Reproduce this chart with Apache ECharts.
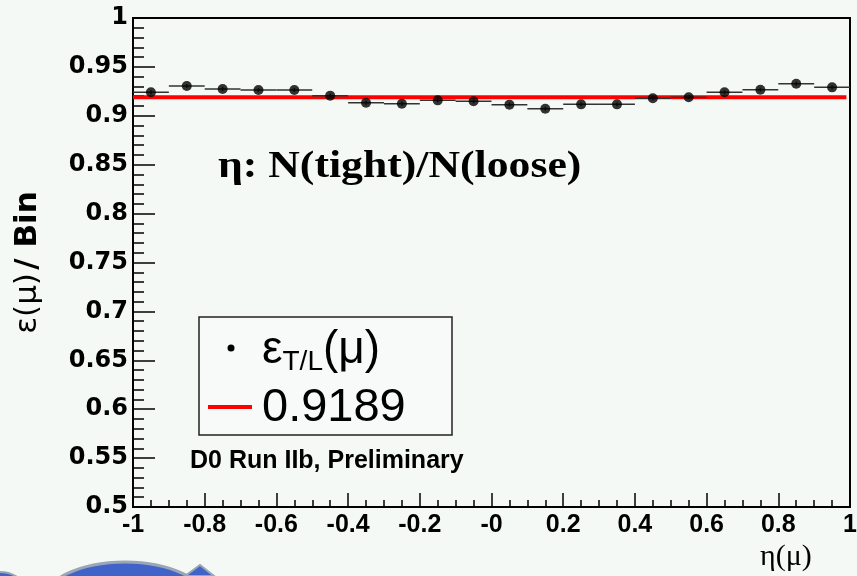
<!DOCTYPE html>
<html>
<head>
<meta charset="utf-8">
<script src="https://cdn.jsdelivr.net/npm/echarts@6/dist/echarts.min.js"></script>
<style>
  html, body { margin: 0; padding: 0; background: #f4f9f6; }
  #chart { width: 857px; height: 576px; }
</style>
</head>
<body>
<div id="chart"></div>
<script>
// tight/loose muon efficiency vs eta, 20 bins of width 0.1
const etaCenters = [-0.95, -0.85, -0.75, -0.65, -0.55, -0.45, -0.35, -0.25, -0.15, -0.05,
                    0.05, 0.15, 0.25, 0.35, 0.45, 0.55, 0.65, 0.75, 0.85, 0.95]
const effValues = [0.924, 0.9305, 0.9274, 0.9264, 0.9264, 0.9206, 0.9134, 0.9124, 0.9158, 0.9148,
                   0.9114, 0.9073, 0.9117, 0.9117, 0.9179, 0.9189, 0.924, 0.9267, 0.9328, 0.9291]
const effErrors = [0.002, 0.002, 0.002, 0.002, 0.002, 0.002, 0.002, 0.002, 0.002, 0.002,
                   0.002, 0.002, 0.002, 0.002, 0.002, 0.002, 0.002, 0.002, 0.002, 0.002]
const binHalfWidth = 0.05
const fitValue = 0.9189
const fitRange = [-1, 0.99]
const xTicks = [-1, -0.8, -0.6, -0.4, -0.2, 0, 0.2, 0.4, 0.6, 0.8, 1]

const chart = echarts.init(document.getElementById("chart"))

const points = etaCenters.map((x, i) => [x, effValues[i], effErrors[i]])

chart.setOption({
  backgroundColor: "#f4f9f6",
  animation: false,
  grid: {
    left: 133, right: 7, top: 18, bottom: 69,
    outerBoundsMode: "none",
    show: true, borderColor: "#000", borderWidth: 2,
  },
  xAxis: {
    type: "value",
    min: -1,
    max: 1,
    interval: 0.2,
    axisLine: { onZero: false, lineStyle: { color: "#000", width: 2 } },
    axisTick: { inside: true, length: 14, lineStyle: { color: "#000", width: 1.5 } },
    minorTick: { show: true, splitNumber: 4, length: 7, lineStyle: { color: "#000", width: 1.5 } },
    splitLine: { show: false },
    axisLabel: {
      color: "#000", fontFamily: "Liberation Sans", fontWeight: "bold", fontSize: 25,
      margin: 6,
      formatter: (v) => {
        const t = xTicks.find((k) => Math.abs(k - v) < 1e-9)
        if (t === undefined) return ""
        return t === 0 ? "-0" : String(t)
      },
    },
  },
  yAxis: {
    type: "value",
    min: 0.5,
    max: 1,
    interval: 0.05,
    name: "{n|ε(μ)} {b|/ Bin}",
    nameLocation: "middle",
    nameGap: 90,
    nameRotate: 90,
    nameTextStyle: {
      rich: {
        n: { fontFamily: "DejaVu Sans", fontSize: 31, color: "#000" },
        b: { fontFamily: "DejaVu Sans", fontSize: 31, fontWeight: "bold", color: "#000" },
      },
    },
    axisLine: { onZero: false, lineStyle: { color: "#000", width: 2 } },
    axisTick: { inside: true, length: 22, lineStyle: { color: "#000", width: 1.5 } },
    minorTick: { show: true, splitNumber: 5, length: 11, lineStyle: { color: "#000", width: 1.5 } },
    splitLine: { show: false },
    axisLabel: {
      color: "#000", fontFamily: "DejaVu Sans", fontWeight: "bold", fontSize: 24,
      margin: 5,
      formatter: (v) => String(Math.round(v * 100) / 100),
    },
  },
  series: [
    {
      type: "line",
      data: fitRange.map((x) => [x, fitValue]),
      symbol: "none",
      lineStyle: { color: "#ff0000", width: 4 },
      z: 3,
    },
    {
      type: "custom",
      data: points,
      renderItem: (params, api) => {
        const x = api.value(0)
        const y = api.value(1)
        const e = api.value(2)
        const l = api.coord([x - binHalfWidth, y])
        const r = api.coord([x + binHalfWidth, y])
        const t = api.coord([x, y + e])
        const b = api.coord([x, y - e])
        const style = { stroke: "#333", lineWidth: 1.5 }
        return {
          type: "group",
          children: [
            { type: "line", shape: { x1: l[0], y1: l[1], x2: r[0], y2: r[1] }, style },
            { type: "line", shape: { x1: t[0], y1: t[1], x2: b[0], y2: b[1] }, style },
          ],
        }
      },
      z: 4,
    },
    {
      type: "scatter",
      data: points.map((p) => [p[0], p[1]]),
      symbol: "circle",
      symbolSize: 10,
      itemStyle: { color: "#000" },
      z: 5,
    },
  ],
  graphic: [
    {
      type: "text",
      x: 218,
      y: 148,
      scaleX: 1.15,
      style: { text: "η: N(tight)/N(loose)", font: "bold 38px 'Liberation Serif'", fill: "#000" },
    },
    {
      type: "text",
      x: 760,
      y: 542,
      style: { text: "η(μ)", font: "30px 'Liberation Serif'", fill: "#000" },
    },
    {
      type: "rect",
      shape: { x: 199, y: 317, width: 253, height: 118 },
      style: { fill: "#f7faf8", stroke: "#222", lineWidth: 1.5 },
    },
    { type: "circle", shape: { cx: 231, cy: 348, r: 3.5 }, style: { fill: "#000" } },
    {
      type: "text",
      x: 262,
      y: 324,
      style: {
        text: "{a|ε}{s|T/L}{a|(μ)}",
        rich: {
          a: { fontFamily: "Liberation Sans", fontSize: 46, color: "#000", height: 52, verticalAlign: "middle" },
          s: { fontFamily: "Liberation Sans", fontSize: 28, color: "#000", padding: [24, 0, 0, 0] },
        },
      },
    },
    { type: "line", shape: { x1: 208, y1: 407, x2: 252, y2: 407 }, style: { stroke: "#ff0000", lineWidth: 4 } },
    {
      type: "text",
      x: 262,
      y: 385,
      style: { text: "0.9189", font: "47px 'Liberation Sans'", fill: "#000" },
    },
    {
      type: "text",
      x: 190,
      y: 449,
      style: { text: "D0 Run IIb, Preliminary", font: "bold 25px 'Liberation Sans'", fill: "#000" },
    },
    // slide logo fragment at bottom-left
    {
      type: "ellipse",
      shape: { cx: 125, cy: 602, rx: 82, ry: 40 },
      style: { fill: "#3f63c8", stroke: "#9aa5b8", lineWidth: 3 },
    },
    {
      type: "polygon",
      shape: { points: [[185, 576], [200, 565], [214, 576]] },
      style: { fill: "#3f63c8", stroke: "#9aa5b8", lineWidth: 2 },
    },
    {
      type: "ellipse",
      shape: { cx: 0, cy: 586, rx: 22, ry: 14 },
      style: { fill: "#3f63c8", stroke: "#9aa5b8", lineWidth: 2 },
    },
  ],
})
</script>
</body>
</html>
